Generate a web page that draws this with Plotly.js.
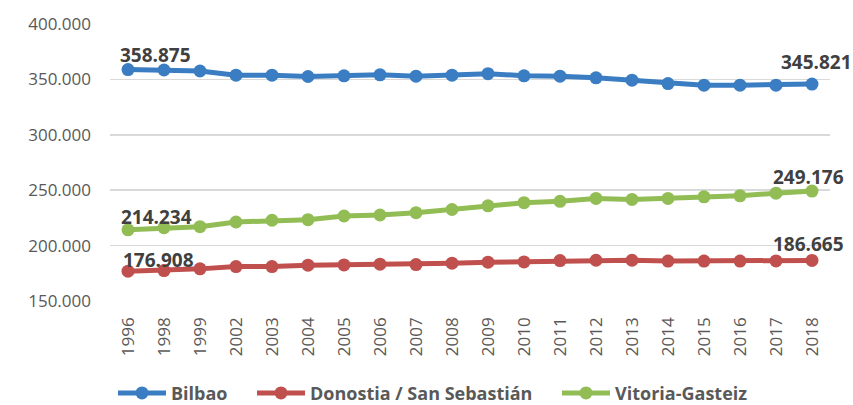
<!DOCTYPE html>
<html>
<head>
<meta charset="utf-8">
<script src="https://cdn.plot.ly/plotly-3.0.1.min.js"></script>
<style>html,body{margin:0;padding:0;background:#fff}#chart{width:853px;height:405px}</style>
</head>
<body>
<div id="chart"></div>
<script>
const years = ["1996","1998","1999","2002","2003","2004","2005","2006","2007","2008","2009","2010","2011","2012","2013","2014","2015","2016","2017","2018"];
const bilbao = [358875,358500,357600,353800,353800,352600,353200,354100,352900,353800,355200,353200,352900,351400,349300,346200,344800,344800,344800,345821];
const donostia = [176908,177500,179000,181100,181100,182300,182600,183200,182900,184100,185000,185300,186500,186800,186800,186000,186000,186000,186200,186665];
const vitoria = [214234,216200,217100,221300,222900,223400,226700,227600,229700,232600,235900,238700,240000,242600,241700,242600,244000,244900,247300,249176];
const seriesNames = ["Bilbao","Donostia / San Sebastián","Vitoria-Gasteiz"];
const yTicks = [150000,200000,250000,300000,350000,400000];

const fmt = v => Math.round(v).toString().replace(/\B(?=(\d{3})+(?!\d))/g, ".");

const colors = ["#3A7DC2","#C0504D","#92BD55"];
const allSeries = [bilbao, donostia, vitoria];
const legendIds = ["legend","legend2","legend3"];
// label offsets (style): [first xshift, first yshift, last xshift, last yshift]
const labelShift = [[-10,0,4,7],[-7,-4,-4,1],[-9,-2,-4,-1]];

const traces = allSeries.map((vals,k)=>({
  type:"scatter", mode:"lines+markers", name:seriesNames[k],
  x:years, y:vals, legend:legendIds[k],
  line:{color:colors[k], width:5},
  marker:{color:colors[k], size:13},
  cliponaxis:false, hoverinfo:"skip"
}));

const labelFont = {family:"Open Sans, sans-serif", size:19, color:"#404040"};
const annotations = [];
allSeries.forEach((vals,k)=>{
  const last = vals.length-1, s = labelShift[k];
  annotations.push({x:0, y:vals[0], xref:"x", yref:"y", text:"<b>"+fmt(vals[0])+"</b>", showarrow:false,
    xanchor:"left", yanchor:"bottom", xshift:s[0], yshift:s[1], font:labelFont});
  annotations.push({x:last, y:vals[last], xref:"x", yref:"y", text:"<b>"+fmt(vals[last])+"</b>", showarrow:false,
    xanchor:"center", yanchor:"bottom", xshift:s[2], yshift:s[3], font:labelFont});
});

const legendBase = {orientation:"h", y:-0.333, yanchor:"middle", xanchor:"left",
  font:{size:18, color:"#595959", weight:"bold"}, itemwidth:48, bgcolor:"rgba(0,0,0,0)"};

const layout = {
  width:853, height:405,
  margin:{l:110, r:23, t:24, b:103.5, autoexpand:false},
  paper_bgcolor:"#fff", plot_bgcolor:"#fff",
  separators:",.",
  font:{family:"Open Sans, sans-serif", size:17, color:"#595959"},
  xaxis:{type:"category", range:[-0.5,19.5], tickangle:-90, showgrid:false, zeroline:false, showline:false,
         automargin:false, ticks:"", ticklabelstandoff:12, tickfont:{size:17, color:"#595959"}},
  yaxis:{range:[150000,400000], tickvals:yTicks, tickformat:",.0f", showgrid:true, gridcolor:"#D9D9D9", gridwidth:1.5,
         automargin:false, zeroline:false, showline:false, ticks:"", ticklabelstandoff:18, tickfont:{size:17, color:"#595959"}},
  showlegend:true,
  legend: Object.assign({}, legendBase, {x:(113-110)/720}),
  legend2: Object.assign({}, legendBase, {x:(252-110)/720}),
  legend3: Object.assign({}, legendBase, {x:(557-110)/720}),
  annotations: annotations
};
Plotly.newPlot("chart", traces, layout, {displayModeBar:false, staticPlot:true});
</script>
</body>
</html>
